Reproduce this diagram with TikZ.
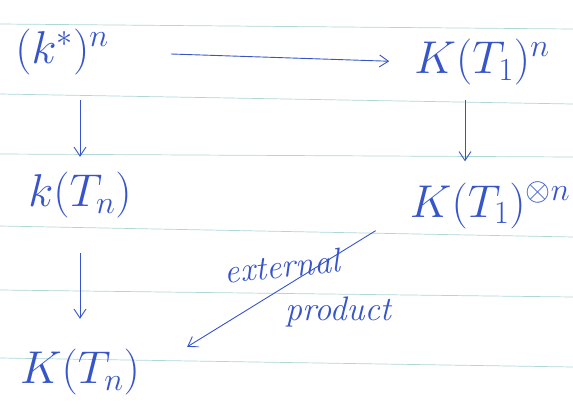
\documentclass[tikz,border=0pt]{standalone}
\usepackage{fix-cm}
\usepackage{amsmath, amssymb}
\usepackage{tikz}
\usepackage{xcolor}
\usetikzlibrary{arrows.meta,positioning}
\definecolor{inkblue}{RGB}{55, 85, 200}
\definecolor{ruleline}{RGB}{175, 215, 212}
\begin{document}
\begin{tikzpicture}[
      x=1pt,y=-1pt,
      obj/.style={inner sep=2pt,text=inkblue,font=\fontsize{46}{50}\selectfont},
      note/.style={inner sep=1pt,text=inkblue,font=\fontsize{34}{36}\selectfont\itshape},
      arr/.style={->,draw=inkblue,line width=0.9pt},
      >={Straight Barb[length=9pt,width=12pt]}
    ]
    \useasboundingbox (0,0) rectangle (573,410);
    \fill[white] (0,0) rectangle (573,410);
    % ruled paper
    \draw[ruleline,line width=0.7pt] (0,24) -- (573,29);
    \draw[ruleline,line width=0.7pt] (0,94) -- (573,104);
    \draw[ruleline,line width=0.7pt] (0,154) -- (573,157);
    \draw[ruleline,line width=0.7pt] (0,226) -- (573,237);
    \draw[ruleline,line width=0.7pt] (0,290) -- (573,297);
    \draw[ruleline,line width=0.7pt] (0,358) -- (573,367);

    \node[obj] (ks) at (62,52) {$(k^*)^n$};
    \node[obj] (K1n) at (482,62) {$K(T_1)^n$};
    \node[obj] (kTn) at (80,195) {$k(T_n)$};
    \node[obj] (K1tn) at (490,205) {$K(T_1)^{\otimes n}$};
    \node[obj] (KTn) at (80,372) {$K(T_n)$};
    \node[note,rotate=6] (ext) at (282,266) {external};
    \node[note] (prod) at (338,312) {product};

    \draw[arr,shorten <=60pt,shorten >=23pt] (ks.east) -- (K1n.west);
    \draw[arr,shorten <=23pt,shorten >=13pt] (kTn.north |- ks.south) -- (kTn.north);
    \draw[arr,shorten <=13pt,shorten >=18pt] ([xshift=-17pt]K1n.south) -- ([xshift=-25pt]K1tn.north);
    \draw[arr,shorten <=33pt,shorten >=28pt] (kTn.south) -- (KTn.north);
    \draw[arr] ([xshift=-32pt]K1tn.south west) -- ([xshift=45pt]KTn.north east);
  \end{tikzpicture}
\end{document}
